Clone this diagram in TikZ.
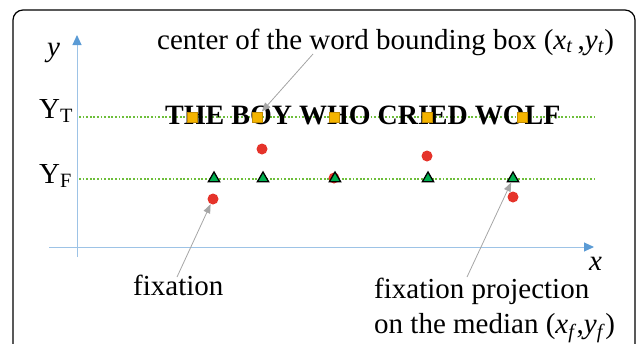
\documentclass[tikz,border=0pt]{standalone}
\usepackage{fontspec}
\setmainfont{Liberation Serif}
\usetikzlibrary{arrows.meta,shapes.geometric}
\definecolor{axisblue}{HTML}{9DC3E6}
\definecolor{arrowblue}{HTML}{5B9BD5}
\definecolor{guidegreen}{HTML}{6DBE3A}
\definecolor{sqfill}{HTML}{F4B400}
\definecolor{sqdraw}{HTML}{C08A00}
\definecolor{trigreen}{HTML}{00B050}
\definecolor{dotred}{HTML}{E5332A}
\definecolor{pointgray}{HTML}{A6A6A6}
\tikzset{
  lbl/.style={font=\fontsize{29}{34}\selectfont, inner sep=0pt, anchor=base west},
  axisline/.style={draw=axisblue, line width=1pt},
  axisarrow/.style={axisline, -{Triangle[length=10pt,width=9pt,color=arrowblue]}},
  guide/.style={draw=guidegreen, line width=1.8pt, dash pattern=on 1.8pt off 1.8pt},
  sqmark/.style={rectangle, minimum size=10pt, inner sep=0pt, fill=sqfill, draw=sqdraw, line width=0.8pt},
  trimark/.style={regular polygon, regular polygon sides=3, minimum size=13pt, inner sep=0pt, fill=trigreen, draw=black, line width=1.3pt},
  dotmark/.style={circle, minimum size=11pt, inner sep=0pt, fill=dotred},
  pointer/.style={draw=pointgray, line width=0.8pt, -{Triangle[length=9pt,width=7pt,color=pointgray]}}
}
\begin{document}
\begin{tikzpicture}[x=1pt,y=-1pt]
\useasboundingbox (0,0) rectangle (637,343);
\begin{scope}
\clip (0,0) rectangle (637,343);
\draw[line width=1.2pt, rounded corners=10pt] (13,10) rectangle (635,370);
\end{scope}
% axes
\coordinate (ybot) at (77,257);
\coordinate (ytop) at (77,35);
\coordinate (xleft) at (49,247);
\coordinate (xright) at (594,247);
\draw[axisarrow] (ybot) -- (ytop);
\draw[axisarrow] (xleft) -- (xright);
\node[lbl] (ylab) at (47,56) {\textit{y}};
\node[lbl] (xlab) at (589,270) {\textit{x}};
% guides
\coordinate (gt1) at (79,117);
\coordinate (gt2) at (594,117);
\coordinate (gf1) at (79,179);
\coordinate (gf2) at (594,179);
\draw[guide] (gt1) -- (gt2);
\draw[guide] (gf1) -- (gf2);
\node[lbl] (YT) at (39,118) {Y\textsubscript{T}};
\node[lbl] (YF) at (39,183) {Y\textsubscript{F}};
% sentence
\node[inner sep=0pt, anchor=base west, font=\fontsize{28}{32}\selectfont\bfseries] (sent) at (165,124) {THE BOY WHO CRIED WOLF};
% squares
\node[sqmark] (s1) at (192,117) {};
\node[sqmark] (s2) at (257,117) {};
\node[sqmark] (s3) at (334,117) {};
\node[sqmark] (s4) at (427,117) {};
\node[sqmark] (s5) at (522,117) {};
% fixations
\node[dotmark] (f1) at (213,199) {};
\node[dotmark] (f2) at (262,149) {};
\node[dotmark] (f3) at (334,178) {};
\node[dotmark] (f4) at (427,156) {};
\node[dotmark] (f5) at (513,197) {};
% projections
\node[trimark] (t1) at (214,178.5) {};
\node[trimark] (t2) at (263,178.5) {};
\node[trimark] (t3) at (335,178.5) {};
\node[trimark] (t4) at (428,178.5) {};
\node[trimark] (t5) at (513,178.5) {};
% labels
\node[lbl] (lc) at (157,49) {center of the word bounding box (\textit{x}\textsubscript{\textit{t}}\,,\textit{y}\textsubscript{\textit{t}})};
\node[lbl] (lfix) at (133,295) {fixation};
\node[lbl] (lproj1) at (374,298) {fixation projection};
\node[lbl] (lproj2) at (374,333) {on the median (\textit{x}\textsubscript{\textit{f}},\textit{y}\textsubscript{\textit{f}})};
% pointers
\coordinate (pc) at (313,54);
\coordinate (pf) at (177,277);
\coordinate (pp) at (467,277);
\draw[pointer] (pc) -- (s2);
\draw[pointer] (pf) -- (f1);
\draw[pointer] (pp) -- (t5);
\end{tikzpicture}
\end{document}
